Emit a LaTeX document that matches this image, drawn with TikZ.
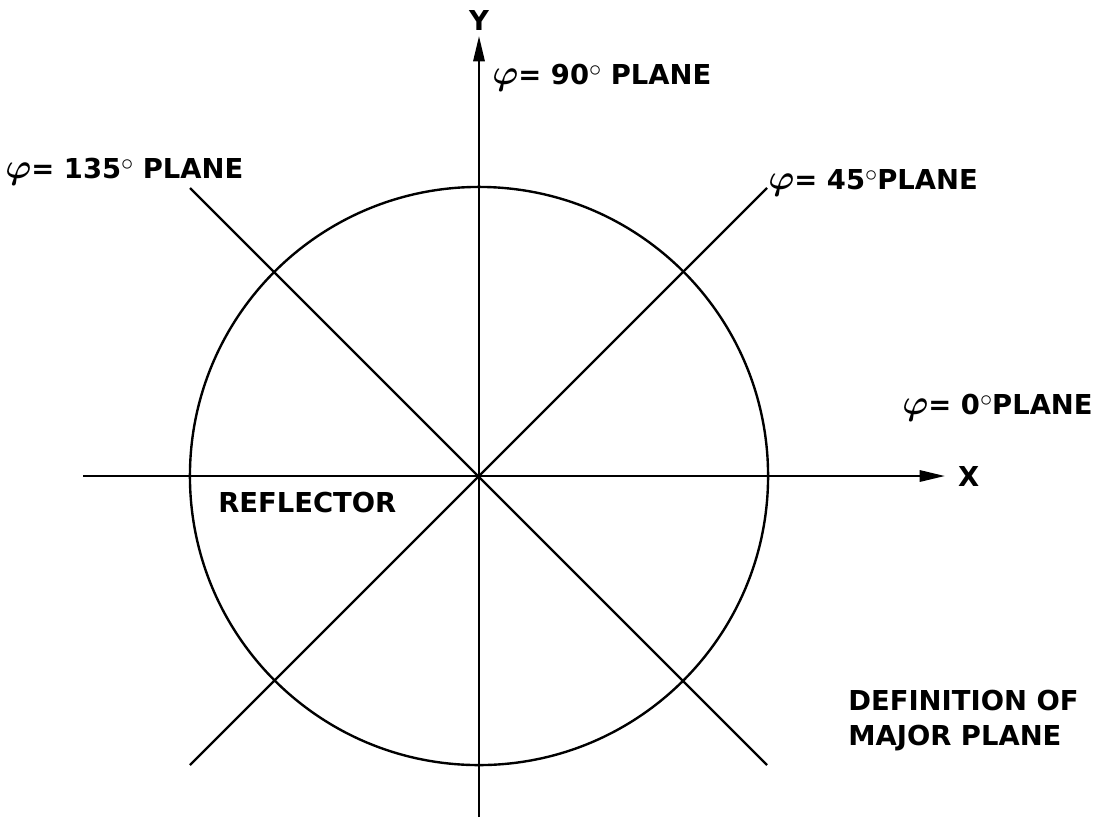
\documentclass[tikz,border=0pt]{standalone}
\usepackage{amsmath}
\usepackage{fontspec}
\setmainfont{DejaVu Sans}
\usetikzlibrary{arrows.meta,positioning}
\newcommand{\planephi}{{\fontsize{25}{25}\selectfont$\boldsymbol{\varphi}$}}
\newcommand{\planedeg}{\raisebox{6pt}{\fontsize{16}{16}\selectfont$\circ$}}
\tikzset{
  planeline/.style={line width=1.7pt},
  axisarrow/.style={line width=1.7pt,-{Triangle[length=18pt,width=8pt]}},
  planelabel/.style={font=\fontsize{19.5}{25}\selectfont\bfseries,inner sep=0pt},
  notelabel/.style={planelabel,align=left}
}
\begin{document}
\begin{tikzpicture}[x=0.025cm,y=-0.025cm]
  \useasboundingbox (0,0) rectangle (1111,818);
  % reflector rim
  \coordinate (o) at (479,476);
  \draw[planeline] (o) circle[radius=7.225cm];
  % axes
  \coordinate (xw) at (83,476);
  \coordinate (xe) at (945,476);
  \coordinate (ys) at (479,817);
  \coordinate (yn) at (479,36);
  \draw[axisarrow] (xw) -- (xe) node[planelabel,right=0.3cm] (xlab) {X};
  \draw[axisarrow] (ys) -- (yn) node[planelabel,above=0.1cm] (ylab) {Y};
  % diagonal planes
  \coordinate (nw) at (190,188);
  \coordinate (ne) at (767,188);
  \coordinate (sw) at (190,765);
  \coordinate (se) at (767,765);
  \draw[planeline] (nw) -- (se);
  \draw[planeline] (sw) -- (ne);
  % labels
  \node[planelabel,anchor=west] (p135) at (5,172) {\planephi= 135\planedeg{} PLANE};
  \node[planelabel,anchor=west] (p90) at (492,78) {\planephi= 90\planedeg{} PLANE};
  \node[planelabel,anchor=west] (p45) at (768,183) {\planephi= 45\planedeg PLANE};
  \node[planelabel,anchor=west] (p0) at (902,408) {\planephi= 0\planedeg PLANE};
  \node[planelabel,anchor=west] (refl) at (218,503) {REFLECTOR};
  \node[notelabel,anchor=north west] (note) at (848,690) {DEFINITION OF\\MAJOR PLANE};
\end{tikzpicture}
\end{document}
